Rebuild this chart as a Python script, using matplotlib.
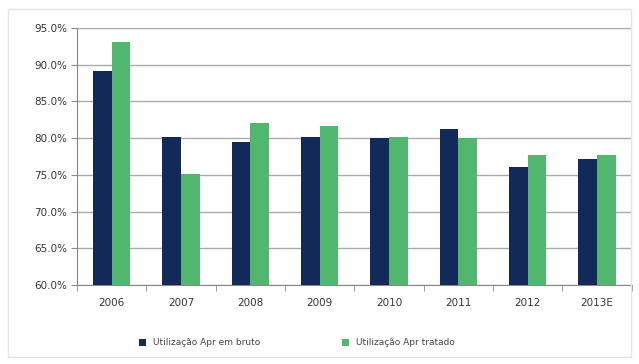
import matplotlib
matplotlib.use("Agg")
import matplotlib.pyplot as plt
from matplotlib.patches import Rectangle
import numpy as np

years = ["2006", "2007", "2008", "2009", "2010", "2011", "2012", "2013E"]
bruto = [89.2, 80.2, 79.5, 80.2, 80.0, 81.2, 76.1, 77.1]
tratado = [93.1, 75.1, 82.0, 81.6, 80.2, 80.0, 77.7, 77.7]
series_names = ["Utilização Apr em bruto", "Utilização Apr tratado"]
yticks = [60, 65, 70, 75, 80, 85, 90, 95]

navy = "#13295a"
green = "#52b76e"

fig = plt.figure(figsize=(6.39, 3.64), dpi=100)
fig.patch.set_facecolor("white")

# faint outer frame of the chart area
fig.patches.append(Rectangle((0.012, 0.02), 0.976, 0.955, transform=fig.transFigure,
                             fill=False, edgecolor="#e4e4e4", linewidth=1.0))

ax = fig.add_axes([0.1205, 0.217, 0.868, 0.706])
x = np.arange(len(years))
w = 0.27
ax.bar(x - w / 2, bruto, width=w, color=navy, label=series_names[0], zorder=3)
ax.bar(x + w / 2, tratado, width=w, color=green, label=series_names[1], zorder=3)

ax.set_ylim(60, 95)
ax.set_xlim(-0.5, len(years) - 0.5)
ax.set_yticks(yticks)
ax.set_yticklabels([f"{v:.1f}%" for v in yticks], fontsize=7.5, color="#333333")
ax.yaxis.grid(True, color="#aaaaaa", linewidth=1.0, zorder=0)
ax.set_axisbelow(True)

ax.set_xticks(x)
ax.set_xticklabels(years, fontsize=7.5, color="#333333")
ax.set_xticks(np.arange(-0.5, len(years)), minor=True)
ax.tick_params(axis="x", which="major", length=0, pad=9)
ax.tick_params(axis="x", which="minor", length=4, color="#888888", direction="out")
ax.tick_params(axis="y", length=4, color="#888888", direction="out", pad=3)

for s in ["top", "right"]:
    ax.spines[s].set_visible(False)
ax.spines["left"].set_color("#888888")
ax.spines["bottom"].set_color("#888888")

fig.legend(loc="center", bbox_to_anchor=(0.465, 0.058), ncol=2, frameon=False,
           fontsize=6.5, handlelength=0.8, handleheight=0.8, columnspacing=9,
           labelcolor="#444444")

fig.savefig("out.png", dpi=100)
